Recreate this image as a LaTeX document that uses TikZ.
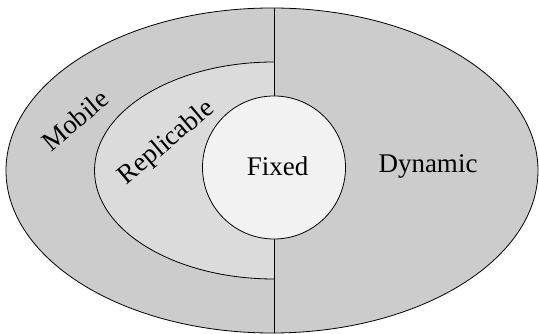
\documentclass[tikz,border=0pt]{standalone}
\usepackage{fontspec}
\setmainfont{Liberation Serif}
\usetikzlibrary{shapes.geometric}
\definecolor{outergray}{gray}{0.80}
\definecolor{innergray}{gray}{0.86}
\definecolor{coregray}{gray}{0.95}
\begin{document}
\begin{tikzpicture}[x=1pt, y=1pt, line width=0.8pt,
    region/.style={draw, ellipse, inner sep=0pt, outer sep=0pt, fill=outergray},
    core/.style={draw, circle, inner sep=0pt, outer sep=0pt, minimum size=143pt, fill=coregray},
    word/.style={font=\fontsize{27}{32}\selectfont}]
    \useasboundingbox (0,0) rectangle (539,334);
    \node[region, minimum width=532pt, minimum height=325pt] (outer) at (272, 163.5) {};
    \coordinate (innertop) at (274, 272);
    \draw[fill=innergray] (innertop) arc[start angle=90, end angle=270, x radius=179.5, y radius=108.5];
    \draw (274, 326) -- (274, 1);
    \node[core] (fixed) at (274, 166.5) {};
    \node[word]              (fixedtxt)  at (277.5, 168) {Fixed};
    \node[word]              (dynamic)   at (428, 168)   {Dynamic};
    \node[word, rotate=40]   (mobile)    at (75, 214)    {Mobile};
    \node[word, rotate=40]   (replicable) at (167, 191)  {Replicable};
\end{tikzpicture}
\end{document}
